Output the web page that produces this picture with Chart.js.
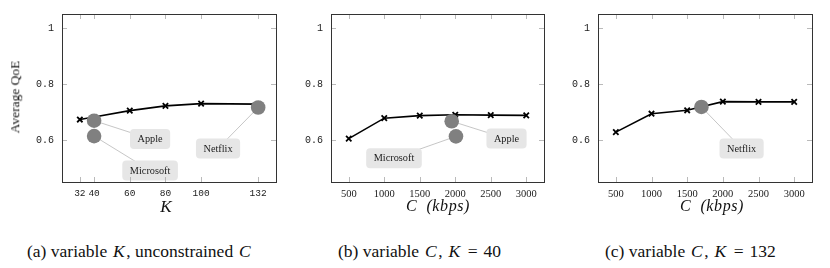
<!DOCTYPE html>
<html><head><meta charset="utf-8">
<script src="https://cdn.jsdelivr.net/npm/chart.js@4/dist/chart.umd.min.js"></script>
<style>
body{margin:0;background:#fff;width:830px;height:268px;overflow:hidden;position:relative;color:#111}
canvas{position:absolute;top:0}
.t{position:absolute;white-space:nowrap;font-family:"Liberation Serif","Times New Roman",serif;color:#111;line-height:1}
.m{font-style:italic;padding:0 1.5px}
.eq{padding:0 6px}
</style></head><body>
<canvas id="ca" width="290" height="205" style="left:0"></canvas>
<canvas id="cb" width="280" height="205" style="left:280px"></canvas>
<canvas id="cc" width="280" height="205" style="left:550px"></canvas>
<div class="t" style="left:15px;top:97px;font-size:13.5px;transform:translate(-50%,-50%) rotate(-90deg)">Average QoE</div>
<div class="t" style="left:166px;top:206px;font-size:17px;font-style:italic;transform:translate(-50%,-50%)">K</div>
<div class="t" style="left:438px;top:206px;font-size:16px;font-style:italic;letter-spacing:0.6px;transform:translate(-50%,-50%)">C&nbsp;&nbsp;(kbps)</div>
<div class="t" style="left:712px;top:206px;font-size:16px;font-style:italic;letter-spacing:0.6px;transform:translate(-50%,-50%)">C&nbsp;&nbsp;(kbps)</div>
<div class="t" style="left:27px;top:243px;font-size:17.5px">(a) variable <span class="m">K</span>, unconstrained <span class="m">C</span></div>
<div class="t" style="left:338px;top:243px;font-size:17.5px">(b) variable <span class="m">C</span>, <span class="m">K</span><span class="eq">=</span>40</div>
<div class="t" style="left:605px;top:243px;font-size:17.5px">(c) variable <span class="m">C</span>, <span class="m">K</span><span class="eq">=</span>132</div>
<script>
// ---- data ----
const K_VALUES = [32, 40, 60, 80, 100, 132];
const QOE_A = [0.673, 0.682, 0.705, 0.722, 0.730, 0.728];
const C_VALUES = [500, 1000, 1500, 2000, 2500, 3000];
const QOE_B = [0.605, 0.678, 0.687, 0.690, 0.689, 0.688];
const QOE_C = [0.628, 0.694, 0.706, 0.737, 0.736, 0.736];
const Y_TICKS = [0.6, 0.8, 1];
const Y_TICK_LABELS = ['0.6', '0.8', '1'];
const K_TICKS = [32, 40, 60, 80, 100, 132];
const C_TICKS = [500, 1000, 1500, 2000, 2500, 3000];
const SERVICES_A = ['Apple', 'Microsoft', 'Netflix'];
const SERVICES_A_X = [40, 40, 132];
const SERVICES_A_Y = [0.669, 0.614, 0.716];
const SERVICES_B = ['Apple', 'Microsoft'];
const SERVICES_B_X = [1950, 2010];
const SERVICES_B_Y = [0.667, 0.613];
const SERVICES_C = ['Netflix'];
const SERVICES_C_X = [1700];
const SERVICES_C_Y = [0.718];

const SERIF = '"Liberation Serif", "Times New Roman", serif';
const MONO = '"Liberation Mono", "DejaVu Sans Mono", monospace';

const pinPlugin = {
  id: 'pins',
  beforeDatasetsDraw(chart) {
    const o = chart.options.plugins.pins; if (!o) return;
    const {ctx, scales:{x, y}} = chart;
    const pts = chart.data.datasets[1].data;
    ctx.save(); ctx.strokeStyle = '#b8b8b8'; ctx.lineWidth = 0.8;
    o.labels.forEach((l, i) => {
      const p = pts[i];
      ctx.beginPath();
      ctx.moveTo(x.getPixelForValue(p.x), y.getPixelForValue(p.y));
      ctx.lineTo(x.getPixelForValue(l.x), y.getPixelForValue(l.y));
      ctx.stroke();
    });
    ctx.restore();
  },
  afterDatasetsDraw(chart) {
    const o = chart.options.plugins.pins; if (!o) return;
    const {ctx, scales:{x, y}} = chart;
    const names = chart.data.datasets[1].names;
    ctx.save();
    ctx.font = '10.3px ' + SERIF;
    o.labels.forEach((l, i) => {
      const cx = x.getPixelForValue(l.x), cy = y.getPixelForValue(l.y);
      const w = ctx.measureText(names[i]).width + 15, h = 20;
      ctx.fillStyle = '#e6e6e6';
      ctx.beginPath();
      ctx.roundRect(cx - w/2, cy - h/2, w, h, 4);
      ctx.fill();
      ctx.fillStyle = '#222'; ctx.textAlign = 'center'; ctx.textBaseline = 'middle';
      ctx.fillText(names[i], cx, cy + 0.5);
    });
    ctx.restore();
  },
  afterDraw(chart) {
    const {ctx, chartArea:a, scales:{x, y}} = chart;
    ctx.save();
    ctx.strokeStyle = '#a8a8a8'; ctx.lineWidth = 0.8;
    x.ticks.forEach(t => {
      const px = Math.round(x.getPixelForValue(t.value)) + 0.5;
      ctx.beginPath(); ctx.moveTo(px, a.bottom); ctx.lineTo(px, a.bottom - 5);
      ctx.moveTo(px, a.top); ctx.lineTo(px, a.top + 5); ctx.stroke();
    });
    y.ticks.forEach(t => {
      const py = Math.round(y.getPixelForValue(t.value)) + 0.5;
      ctx.beginPath(); ctx.moveTo(a.left, py); ctx.lineTo(a.left + 5, py);
      ctx.moveTo(a.right, py); ctx.lineTo(a.right - 5, py); ctx.stroke();
    });
    ctx.strokeStyle = '#333'; ctx.lineWidth = 1;
    ctx.strokeRect(Math.round(a.left) + 0.5, Math.round(a.top) + 0.5, Math.round(a.right - a.left), Math.round(a.bottom - a.top));
    ctx.restore();
  }
};

function makeChart(id, xs, ys, sx, sy, names, xTicks, xmin, xmax, yW, rightPad, labels, xFont) {
  return new Chart(document.getElementById(id), {
    type: 'line',
    data: {
      datasets: [
        { order: 2, data: xs.map((v, i) => ({x: v, y: ys[i]})), borderColor: '#000', borderWidth: 1.6,
          pointStyle: 'crossRot', pointRadius: 3.8, pointBorderWidth: 1.8, pointBorderColor: '#000',
          pointBackgroundColor: '#000', fill: false, tension: 0 },
        { order: 1, names: names, data: sx.map((v, i) => ({x: v, y: sy[i]})), showLine: false,
          pointStyle: 'circle', pointRadius: 7.3, pointBorderWidth: 0,
          pointBackgroundColor: '#808080', pointBorderColor: '#808080' }
      ]
    },
    options: {
      responsive: false, animation: false, devicePixelRatio: 1,
      layout: { padding: { left: 0, top: 12, right: rightPad, bottom: 0 } },
      plugins: { legend: { display: false }, tooltip: { enabled: false }, pins: { labels: labels } },
      scales: {
        x: { type: 'linear', min: xmin, max: xmax,
             grid: { display: false, drawTicks: false }, border: { display: false },
             afterBuildTicks: s => { s.ticks = xTicks.map(v => ({value: v})); },
             afterFit: s => { s.height = 23; },
             ticks: { padding: 6, color: '#222', font: xFont,
                      maxRotation: 0, autoSkip: false, callback: v => String(v) } },
        y: { type: 'linear', min: 0.45, max: 1.05,
             grid: { display: false, drawTicks: false }, border: { display: false },
             afterBuildTicks: s => { s.ticks = Y_TICKS.map(v => ({value: v})); },
             afterFit: s => { s.width = yW; },
             ticks: { padding: 8, color: '#222', font: { family: MONO, size: 10 },
                      callback: v => Y_TICK_LABELS[Y_TICKS.indexOf(v)] } }
      }
    },
    plugins: [pinPlugin]
  });
}

makeChart('ca', K_VALUES, QOE_A, SERVICES_A_X, SERVICES_A_Y, SERVICES_A, K_TICKS, 22, 142, 62, 14,
  [{x: 71.4, y: 0.604}, {x: 71.4, y: 0.491}, {x: 109.5, y: 0.570}], { family: MONO, size: 9.5 });
makeChart('cb', C_VALUES, QOE_B, SERVICES_B_X, SERVICES_B_Y, SERVICES_B, C_TICKS, 250, 3250, 51, 16,
  [{x: 2722, y: 0.605}, {x: 1137, y: 0.535}], { family: SERIF, size: 10.5 });
makeChart('cc', C_VALUES, QOE_C, SERVICES_C_X, SERVICES_C_Y, SERVICES_C, C_TICKS, 250, 3250, 48, 18,
  [{x: 2263, y: 0.570}], { family: SERIF, size: 10.5 });
</script>
</body></html>
